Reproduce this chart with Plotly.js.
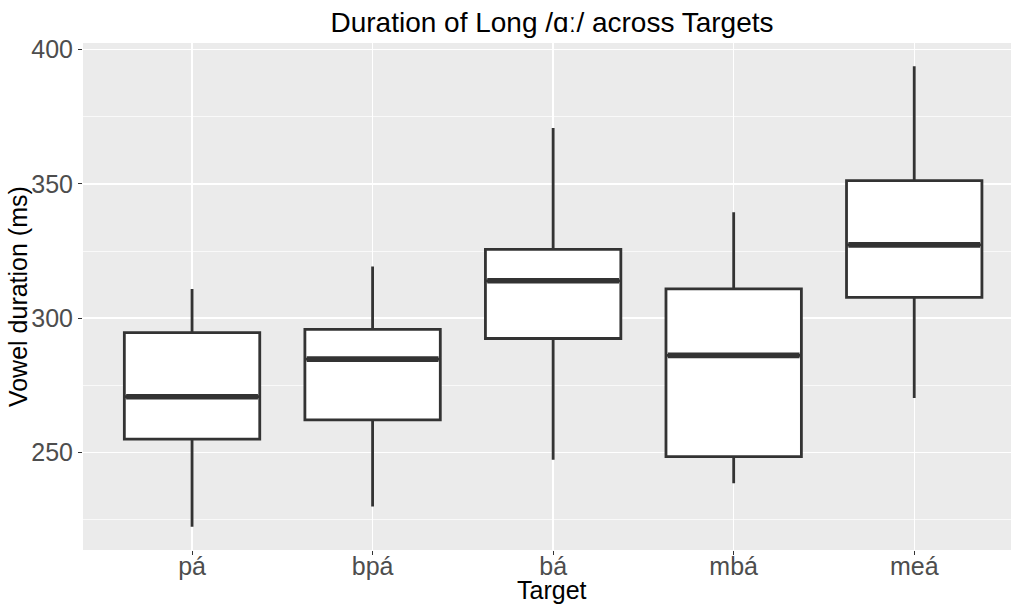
<!DOCTYPE html>
<html>
<head>
<meta charset="utf-8">
<script src="https://cdn.plot.ly/plotly-3.0.1.min.js"></script>
<style>
  html, body { margin: 0; padding: 0; background: #ffffff; overflow: hidden; }
  #chart { width: 1011px; height: 605px; }
</style>
</head>
<body>
<div id="chart"></div>
<script>
// Vowel duration summaries (ms) for long /ɑː/ by target word
const targets = ["pá", "bpá", "bá", "mbá", "meá"];
const lowerWhisker = [222.3, 229.8, 247.2, 238.5, 270.2];
const q1Values = [254.9, 262.1, 292.4, 248.4, 307.7];
const medianValues = [270.7, 284.7, 313.9, 286.1, 327.3];
const q3Values = [294.6, 295.8, 325.6, 310.9, 351.2];
const upperWhisker = [310.8, 319.2, 370.8, 339.4, 393.8];

const yTicks = [250, 300, 350, 400];
const yMinorTicks = [225, 275, 325, 375];

const positions = targets.map((_, i) => i);
const boxWidth = 0.75;
const ink = "#333333";

const boxes = {
  type: "box",
  x: positions,
  q1: q1Values,
  median: medianValues,
  q3: q3Values,
  lowerfence: lowerWhisker,
  upperfence: upperWhisker,
  width: boxWidth,
  whiskerwidth: 0,
  fillcolor: "#ffffff",
  line: { color: ink, width: 2.8 },
  boxpoints: false,
  hoverinfo: "skip",
  showlegend: false
};

// Heavier median bars drawn across each box
const medX = [];
const medY = [];
positions.forEach((p, i) => {
  medX.push(p - boxWidth / 2 + 0.01, p + boxWidth / 2 - 0.01, null);
  medY.push(medianValues[i], medianValues[i], null);
});
const medians = {
  type: "scatter",
  mode: "lines",
  x: medX,
  y: medY,
  line: { color: ink, width: 5.6 },
  hoverinfo: "skip",
  showlegend: false
};

const font = "'Liberation Sans', Arial, sans-serif";

const layout = {
  width: 1011,
  height: 605,
  margin: { l: 83, r: 0, t: 43, b: 55, pad: 0 },
  paper_bgcolor: "#ffffff",
  plot_bgcolor: "#EBEBEB",
  font: { family: font, color: "#000000" },
  title: {
    text: "Duration of Long /ɑː/ across Targets",
    font: { family: font, size: 28, color: "#000000" },
    xref: "container",
    x: 0.546,
    xanchor: "center",
    yref: "container",
    y: 0.963,
    yanchor: "middle"
  },
  xaxis: {
    range: [-0.604, 4.536],
    tickmode: "array",
    tickvals: positions,
    ticktext: targets,
    automargin: false,
    showgrid: true,
    gridcolor: "#ffffff",
    gridwidth: 1.4,
    zeroline: false,
    showline: false,
    ticks: "outside",
    ticklen: 4,
    tickwidth: 1,
    tickcolor: ink,
    ticklabelstandoff: -10,
    tickfont: { family: font, size: 25, color: "#4D4D4D" },
    fixedrange: true
  },
  yaxis: {
    range: [213.6, 402.5],
    tickmode: "array",
    tickvals: yTicks,
    automargin: false,
    showgrid: true,
    gridcolor: "#ffffff",
    gridwidth: 1.4,
    zeroline: false,
    showline: false,
    ticks: "outside",
    ticklen: 4,
    tickwidth: 1,
    tickcolor: ink,
    tickfont: { family: font, size: 25, color: "#4D4D4D" },
    minor: {
      tickvals: yMinorTicks,
      showgrid: true,
      gridcolor: "#ffffff",
      gridwidth: 0.7,
      ticks: ""
    },
    fixedrange: true
  },
  annotations: [
    {
      text: "Target",
      xref: "paper", yref: "paper",
      x: 0.5054, y: -0.078,
      xanchor: "center", yanchor: "middle",
      borderpad: 0,
      showarrow: false,
      font: { family: font, size: 25, color: "#000000" }
    },
    {
      text: "Vowel duration (ms)",
      xref: "paper", yref: "paper",
      x: -0.0705, y: 0.5,
      xanchor: "center", yanchor: "middle",
      textangle: -90,
      showarrow: false,
      font: { family: font, size: 25, color: "#000000" }
    }
  ]
};

Plotly.newPlot("chart", [boxes, medians], layout, { staticPlot: true, displayModeBar: false });
</script>
</body>
</html>
